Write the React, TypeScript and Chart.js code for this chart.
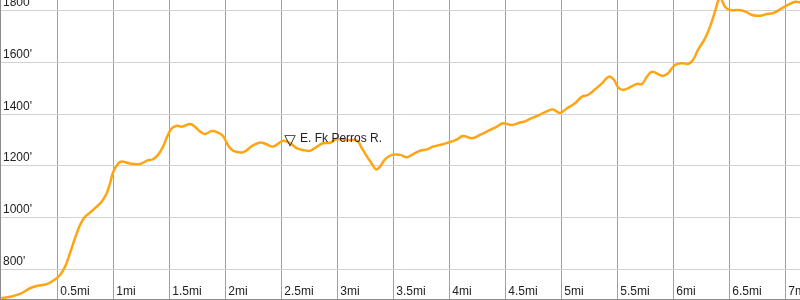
import { useEffect, useRef } from 'react';
import { Chart, registerables } from 'chart.js';

Chart.register(...registerables);

// Distance along trail (miles)
const distancesMi = [
  0, 0.078, 0.167, 0.256, 0.316, 0.405, 0.479, 0.524, 0.569, 0.613, 0.658, 0.703, 0.747, 0.792,
  0.852, 0.896, 0.941, 0.971, 1.0, 1.045, 1.075, 1.149, 1.238, 1.301, 1.354, 1.399, 1.444, 1.488,
  1.524, 1.569, 1.613, 1.685, 1.729, 1.774, 1.819, 1.881, 1.935, 1.979, 2.024, 2.069, 2.158, 2.238,
  2.31, 2.363, 2.426, 2.515, 2.578, 2.64, 2.694, 2.756, 2.819, 2.872, 2.935, 2.997, 3.087, 3.176,
  3.22, 3.265, 3.31, 3.345, 3.381, 3.426, 3.488, 3.56, 3.622, 3.676, 3.738, 3.801, 3.854, 3.917,
  3.988, 4.069, 4.122, 4.203, 4.274, 4.364, 4.426, 4.48, 4.56, 4.631, 4.676, 4.72, 4.792, 4.864,
  4.926, 4.988, 5.051, 5.122, 5.185, 5.238, 5.301, 5.363, 5.426, 5.471, 5.506, 5.551, 5.613, 5.676,
  5.72, 5.765, 5.81, 5.881, 5.908, 5.953, 6.015, 6.078, 6.131, 6.176, 6.22, 6.283, 6.328, 6.372,
  6.417, 6.462, 6.506, 6.578, 6.644, 6.703, 6.774, 6.836, 6.89, 6.953, 7.024, 7.087, 7.131,
];

// Elevation (feet)
const elevationsFt = [
  690, 695, 706, 728, 737, 744, 762, 779, 811, 863, 921, 972, 1004, 1020,
  1043, 1062, 1095, 1133, 1178, 1210, 1217, 1210, 1208, 1221, 1226, 1243, 1275, 1320,
  1346, 1355, 1352, 1362, 1352, 1333, 1324, 1335, 1329, 1316, 1281, 1259, 1253, 1277,
  1291, 1285, 1275, 1297, 1288, 1268, 1262, 1259, 1275, 1288, 1290, 1304, 1300, 1298,
  1268, 1236, 1208, 1187, 1197, 1226, 1243, 1243, 1234, 1246, 1259, 1264, 1275, 1281,
  1290, 1303, 1316, 1307, 1320, 1339, 1352, 1365, 1358, 1368, 1372, 1382, 1395, 1410,
  1418, 1405, 1423, 1442, 1468, 1474, 1496, 1519, 1545, 1532, 1504, 1493, 1504, 1517,
  1517, 1545, 1564, 1551, 1548, 1558, 1590, 1597, 1594, 1609, 1648, 1693, 1738, 1796,
  1850, 1815, 1802, 1802, 1796, 1783, 1780, 1787, 1790, 1805, 1822, 1834, 1832,
];

const xTickValues = [0.5, 1, 1.5, 2, 2.5, 3, 3.5, 4, 4.5, 5, 5.5, 6, 6.5, 7];
const yTickValues = [800, 1000, 1200, 1400, 1600, 1800];

const waypointSymbol = '\u25BD';
const waypointLabel = 'E. Fk Perros R.';
const waypointMi = 2.578;
const waypointFt = 1288;

const FONT = '"Liberation Sans", Arial, "DejaVu Sans", sans-serif';

const waypointPlugin = {
  id: 'waypoint',
  afterDatasetsDraw(chart: any) {
    const { ctx, scales } = chart;
    const px = scales.x.getPixelForValue(waypointMi);
    const py = scales.y.getPixelForValue(waypointFt);
    ctx.save();
    ctx.fillStyle = '#222';
    ctx.textBaseline = 'alphabetic';
    ctx.textAlign = 'center';
    ctx.font = '15px "DejaVu Sans", sans-serif';
    ctx.fillText(waypointSymbol, px, py + 1.5);
    ctx.textAlign = 'left';
    ctx.font = `12px ${FONT}`;
    ctx.fillText(waypointLabel, px + 10, py - 1);
    ctx.restore();
  },
};

export default function App() {
  const ref = useRef<HTMLCanvasElement | null>(null);

  useEffect(() => {
    if (!ref.current) return;
    const chart = new Chart(ref.current, {
      type: 'line',
      data: {
        datasets: [
          {
            data: distancesMi.map((d, i) => ({ x: d, y: elevationsFt[i] })),
            borderColor: '#FFA514',
            borderWidth: 2.5,
            pointRadius: 0,
            tension: 0.4,
            fill: false,
          },
        ],
      },
      options: {
        animation: false,
        responsive: false,
        layout: { padding: { left: 0, right: 0, top: 0, bottom: 1 } },
        plugins: { legend: { display: false }, tooltip: { enabled: false } },
        scales: {
          x: {
            type: 'linear',
            min: -0.0116,
            max: 7.131,
            afterBuildTicks: (s: any) => {
              s.ticks = xTickValues.map((v) => ({ value: v }));
            },
            afterFit: (s: any) => {
              s.paddingLeft = 0;
              s.paddingRight = 0;
              s.height = 0;
            },
            grid: { color: '#a0a0a0', drawTicks: false, lineWidth: 1 },
            border: { display: true, color: '#8c8c8c' },
            ticks: {
              mirror: true,
              align: 'start',
              labelOffset: 3,
              padding: 0,
              autoSkip: false,
              maxRotation: 0,
              minRotation: 0,
              color: '#222',
              font: { family: FONT, size: 12 },
              callback: (v: any) => `${v}mi`,
            },
          },
          y: {
            type: 'linear',
            min: 686.5,
            max: 1840.9,
            afterBuildTicks: (s: any) => {
              s.ticks = yTickValues.map((v) => ({ value: v }));
            },
            afterFit: (s: any) => {
              s.width = 0;
              s.paddingTop = 0;
              s.paddingBottom = 0;
            },
            grid: { color: '#d2d2d2', drawTicks: false, lineWidth: 1 },
            border: { display: true, color: '#8c8c8c' },
            ticks: {
              mirror: true,
              padding: 3,
              labelOffset: -8,
              autoSkip: false,
              color: '#222',
              font: { family: FONT, size: 12 },
              callback: (v: any) => `${v}'`,
            },
          },
        },
      } as any,
      plugins: [waypointPlugin],
    });
    return () => chart.destroy();
  }, []);

  return (
    <div style={{ position: 'absolute', left: 0, top: 0, width: 800, height: 300, background: '#fff' }}>
      <canvas ref={ref} width={800} height={300} style={{ display: 'block', width: 800, height: 300 }} />
    </div>
  );
}
